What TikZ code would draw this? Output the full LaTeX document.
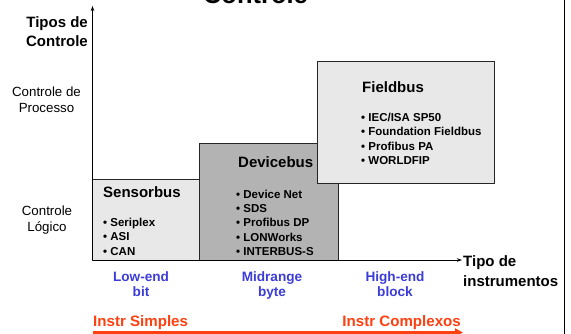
\documentclass[tikz,border=0pt]{standalone}
\usepackage{fontspec}
\setmainfont{Liberation Sans}
\usetikzlibrary{arrows.meta}
\definecolor{lblue}{RGB}{60,60,215}
\definecolor{lred}{RGB}{255,64,16}
\definecolor{boxlight}{RGB}{232,232,232}
\definecolor{boxdark}{RGB}{179,179,179}
\tikzset{
  busbox/.style={draw=black!85, line width=0.9pt, inner sep=0pt, outer sep=0pt, anchor=north west},
  bustitle/.style={font=\fontsize{15}{18}\selectfont\bfseries, inner sep=0pt, anchor=base west},
  bulletitem/.style={font=\fontsize{11.5}{14}\selectfont\bfseries, inner sep=0pt, anchor=base west},
  axislabel/.style={font=\fontsize{15}{19}\selectfont\bfseries, inner sep=0pt},
  sidelabel/.style={font=\fontsize{13.3}{16}\selectfont, inner sep=0pt, anchor=base},
  rangelabel/.style={font=\fontsize{13.6}{16}\selectfont\bfseries, text=lblue, inner sep=0pt, anchor=base},
  instrlabel/.style={font=\fontsize{15.1}{18}\selectfont\bfseries, text=lred, inner sep=0pt},
  axisline/.style={line width=0.7pt, -{Stealth[length=5pt,width=3.5pt]}},
}
\begin{document}
\begin{tikzpicture}[x=1pt,y=-1pt]
\clip (0,0) rectangle (571,334);
\useasboundingbox (0,0) rectangle (571,334);
% title (cropped)
\node[font=\fontsize{25.5}{30}\selectfont\bfseries, inner sep=0pt, anchor=base] (title) at (255.5,4) {Controle};
% right frame line
\coordinate (rtop) at (564.5,0);
\coordinate (rbot) at (564.5,334);
\draw[line width=1.4pt] (rtop) -- (rbot);
% boxes
\node[busbox, fill=boxlight, minimum width=108pt, minimum height=81pt] (sensor) at (92,179) {};
\node[busbox, fill=boxdark, minimum width=139pt, minimum height=117pt] (device) at (199,143) {};
\node[busbox, fill=boxlight, minimum width=177pt, minimum height=122pt] (field) at (317,61) {};
% Sensorbus text
\node[bustitle] (st) at (103,198) {Sensorbus};
\node[bulletitem] (s1) at (103,226) {• Seriplex};
\node[bulletitem] (s2) at (103,240.5) {• ASI};
\node[bulletitem] (s3) at (103,255) {• CAN};
% Devicebus text
\node[bustitle] (dt) at (238,168) {Devicebus};
\node[bulletitem] (d1) at (236,199) {• Device Net};
\node[bulletitem] (d2) at (236,213) {• SDS};
\node[bulletitem] (d3) at (236,227) {• Profibus DP};
\node[bulletitem] (d4) at (236,241) {• LONWorks};
\node[bulletitem] (d5) at (236,255) {• INTERBUS-S};
% Fieldbus text
\node[bustitle] (ft) at (362,93) {Fieldbus};
\node[bulletitem] (f1) at (361,121.5) {• IEC/ISA SP50};
\node[bulletitem] (f2) at (361,136) {• Foundation Fieldbus};
\node[bulletitem] (f3) at (361,150.5) {• Profibus PA};
\node[bulletitem] (f4) at (361,165) {• WORLDFIP};
% axes
\coordinate (O) at (92.5,260);
\coordinate (ytip) at (92.5,6);
\coordinate (xtip) at (462,260);
\draw[axisline] (O) -- (ytip);
\draw[axisline] (O) -- (xtip);
% axis labels
\node[axislabel, anchor=base east] (yl1) at (88,28) {Tipos de};
\node[axislabel, anchor=base east] (yl2) at (88,47) {Controle};
\node[axislabel, anchor=base west] (xl1) at (463,267) {Tipo de};
\node[axislabel, anchor=base west] (xl2) at (463,287) {instrumentos};
% side labels
\node[sidelabel] (p1) at (46.5,97) {Controle de};
\node[sidelabel] (p2) at (46.5,113) {Processo};
\node[sidelabel] (l1) at (47,216) {Controle};
\node[sidelabel] (l2) at (47,231.5) {Lógico};
% range labels
\node[rangelabel] (r1a) at (141,281) {Low-end};
\node[rangelabel] (r1b) at (141,297) {bit};
\node[rangelabel] (r2a) at (272,281) {Midrange};
\node[rangelabel] (r2b) at (272,297) {byte};
\node[rangelabel] (r3a) at (395,281) {High-end};
\node[rangelabel] (r3b) at (395,297) {block};
% instr labels and arrow
\node[instrlabel, anchor=base west] (is) at (93,326) {Instr Simples};
\node[instrlabel, anchor=base east] (ic) at (461,326) {Instr Complexos};
\coordinate (ra) at (93,332.5);
\coordinate (rb) at (463,332.5);
\draw[lred, line width=3pt, -{Triangle[length=8pt,width=8pt]}] (ra) -- (rb);
\end{tikzpicture}
\end{document}
